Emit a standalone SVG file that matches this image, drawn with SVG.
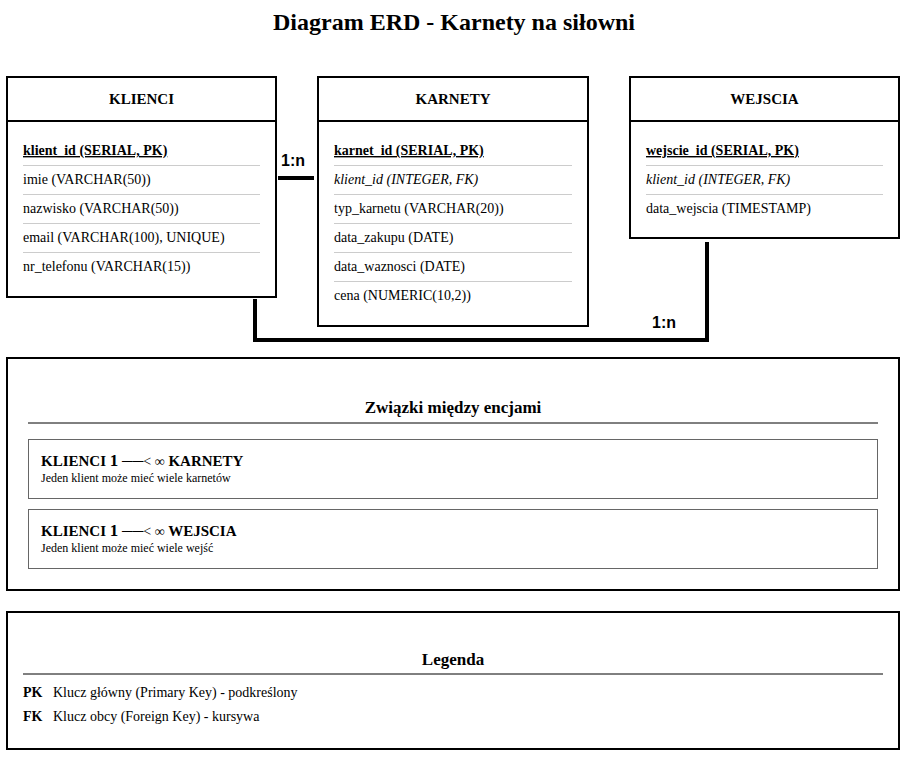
<svg xmlns="http://www.w3.org/2000/svg" width="909" height="767" viewBox="0 0 909 767">
<style>
text{font-family:"Liberation Serif","Times New Roman",serif;fill:#000}
.ent{fill:#fff;stroke:#000;stroke-width:2}
.hdr{stroke:#000;stroke-width:2}
.sep{stroke:#ccc;stroke-width:1}
.ename{font-size:15px;font-weight:bold;text-anchor:middle}
.attr{font-size:14px}
.pk{font-weight:bold;text-decoration:underline}
.fk{font-style:italic}
.conn{fill:none;stroke:#000;stroke-width:4}
.card{font-family:"Liberation Sans",Arial,sans-serif;font-size:16px;font-weight:bold}
.panel{fill:#fff;stroke:#000;stroke-width:2}
.ptitle{font-size:17px;font-weight:bold;text-anchor:middle}
.rel{fill:#fff;stroke:#666;stroke-width:1}
.reltxt{font-size:15px;font-weight:bold}
.relsub{font-size:12px}
.leg{font-size:14px}
</style>
<rect width="909" height="767" fill="#fff"/>
<text x="454" y="30" font-size="24" font-weight="bold" text-anchor="middle">Diagram ERD - Karnety na siłowni</text>

<g id="connectors">
<line class="conn" x1="278" y1="178" x2="314" y2="178"/>
<text class="card" x="281" y="166">1:n</text>
<polyline class="conn" points="255,299 255,340 707,340 707,242"/>
<text class="card" x="652" y="328">1:n</text>
</g>

<g id="klienci">
<rect class="ent" x="7" y="77" width="269" height="220"/>
<line class="hdr" x1="7" y1="121" x2="276" y2="121"/>
<text class="ename" x="141.5" y="104">KLIENCI</text>
<text class="attr pk" x="23" y="155">klient_id (SERIAL, PK)</text>
<line class="sep" x1="23" y1="165.5" x2="260" y2="165.5"/>
<text class="attr" x="23" y="184">imie (VARCHAR(50))</text>
<line class="sep" x1="23" y1="194.5" x2="260" y2="194.5"/>
<text class="attr" x="23" y="213">nazwisko (VARCHAR(50))</text>
<line class="sep" x1="23" y1="223.5" x2="260" y2="223.5"/>
<text class="attr" x="23" y="242">email (VARCHAR(100), UNIQUE)</text>
<line class="sep" x1="23" y1="252.5" x2="260" y2="252.5"/>
<text class="attr" x="23" y="271">nr_telefonu (VARCHAR(15))</text>
</g>

<g id="karnety">
<rect class="ent" x="318" y="77" width="270" height="249"/>
<line class="hdr" x1="318" y1="121" x2="588" y2="121"/>
<text class="ename" x="453" y="104">KARNETY</text>
<text class="attr pk" x="334" y="155">karnet_id (SERIAL, PK)</text>
<line class="sep" x1="334" y1="165.5" x2="572" y2="165.5"/>
<text class="attr fk" x="334" y="184">klient_id (INTEGER, FK)</text>
<line class="sep" x1="334" y1="194.5" x2="572" y2="194.5"/>
<text class="attr" x="334" y="213">typ_karnetu (VARCHAR(20))</text>
<line class="sep" x1="334" y1="223.5" x2="572" y2="223.5"/>
<text class="attr" x="334" y="242">data_zakupu (DATE)</text>
<line class="sep" x1="334" y1="252.5" x2="572" y2="252.5"/>
<text class="attr" x="334" y="271">data_waznosci (DATE)</text>
<line class="sep" x1="334" y1="281.5" x2="572" y2="281.5"/>
<text class="attr" x="334" y="300">cena (NUMERIC(10,2))</text>
</g>

<g id="wejscia">
<rect class="ent" x="630" y="77" width="269" height="161"/>
<line class="hdr" x1="630" y1="121" x2="899" y2="121"/>
<text class="ename" x="764.5" y="104">WEJSCIA</text>
<text class="attr pk" x="646" y="155">wejscie_id (SERIAL, PK)</text>
<line class="sep" x1="646" y1="165.5" x2="883" y2="165.5"/>
<text class="attr fk" x="646" y="184">klient_id (INTEGER, FK)</text>
<line class="sep" x1="646" y1="194.5" x2="883" y2="194.5"/>
<text class="attr" x="646" y="213">data_wejscia (TIMESTAMP)</text>
</g>

<g id="zwiazki">
<rect class="panel" x="7" y="358" width="892" height="232"/>
<text class="ptitle" x="453" y="413">Związki między encjami</text>
<line x1="28" y1="423" x2="878" y2="423" stroke="#000" stroke-width="1"/>
<rect class="rel" x="28.5" y="439.5" width="849" height="59"/>
<text class="reltxt" x="41" y="466">KLIENCI <tspan font-size="17">1</tspan> ──<tspan font-weight="normal" font-size="14">&lt; ∞</tspan> KARNETY</text>
<text class="relsub" x="41" y="482">Jeden klient może mieć wiele karnetów</text>
<rect class="rel" x="28.5" y="509.5" width="849" height="59"/>
<text class="reltxt" x="41" y="536">KLIENCI <tspan font-size="17">1</tspan> ──<tspan font-weight="normal" font-size="14">&lt; ∞</tspan> WEJSCIA</text>
<text class="relsub" x="41" y="552">Jeden klient może mieć wiele wejść</text>
</g>

<g id="legenda">
<rect class="panel" x="7" y="612" width="892" height="137"/>
<text class="ptitle" x="453" y="665">Legenda</text>
<line x1="23" y1="674" x2="883" y2="674" stroke="#000" stroke-width="1"/>
<text class="leg" x="23" y="697" font-weight="bold">PK</text>
<text class="leg" x="53" y="697">Klucz główny (Primary Key) - podkreślony</text>
<text class="leg" x="23" y="721" font-weight="bold">FK</text>
<text class="leg" x="53" y="721">Klucz obcy (Foreign Key) - kursywa</text>
</g>
</svg>
